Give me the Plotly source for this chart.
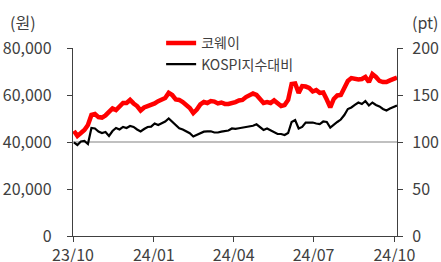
import plotly.graph_objects as go

# Dates (every 4 days)
dates = [
    "2023-10-02","2023-10-06","2023-10-10","2023-10-14","2023-10-18","2023-10-22","2023-10-26","2023-10-30",
    "2023-11-03","2023-11-07","2023-11-11","2023-11-15","2023-11-19","2023-11-23","2023-11-27",
    "2023-12-01","2023-12-05","2023-12-09","2023-12-13","2023-12-17","2023-12-21","2023-12-25","2023-12-29",
    "2024-01-02","2024-01-06","2024-01-10","2024-01-14","2024-01-18","2024-01-22","2024-01-26","2024-01-30",
    "2024-02-03","2024-02-07","2024-02-11","2024-02-15","2024-02-19","2024-02-23","2024-02-27",
    "2024-03-02","2024-03-06","2024-03-10","2024-03-14","2024-03-18","2024-03-22","2024-03-26","2024-03-30",
    "2024-04-03","2024-04-07","2024-04-11","2024-04-15","2024-04-19","2024-04-23","2024-04-27",
    "2024-05-01","2024-05-05","2024-05-09","2024-05-13","2024-05-17","2024-05-21","2024-05-25","2024-05-29",
    "2024-06-02","2024-06-06","2024-06-10","2024-06-14","2024-06-18","2024-06-22","2024-06-26","2024-06-30",
    "2024-07-04","2024-07-08","2024-07-12","2024-07-16","2024-07-20","2024-07-24","2024-07-28",
    "2024-08-01","2024-08-05","2024-08-09","2024-08-13","2024-08-17","2024-08-21","2024-08-25","2024-08-29",
    "2024-09-02","2024-09-06","2024-09-10","2024-09-14","2024-09-18","2024-09-22","2024-09-26","2024-09-30",
    "2024-10-04",
]

# 코웨이 share price (원)
coway = [
    44700, 42600, 43800, 45100, 47200, 51500, 51900, 50600,
    50400, 51300, 52800, 54300, 53600, 55300, 56600,
    56600, 57900, 56400, 55300, 53400, 54700, 55300, 55700,
    56400, 57400, 57900, 58700, 60900, 60000, 58100, 57900,
    57000, 56000, 54500, 52300, 53800, 56000, 57000,
    56600, 57400, 57200, 56400, 56800, 56200, 56200, 56500,
    57000, 57700, 57900, 59100, 60000, 60600, 60000,
    58500, 56600, 57000, 56600, 57700, 56600, 55300, 55700,
    57900, 64700, 64900, 60900, 63800, 63600, 63000, 61500,
    62100, 60900, 61100, 58100, 54700, 58300, 59800,
    60000, 63000, 66000, 67200, 66800, 66600, 66800, 67700,
    65500, 68900, 67700, 66000, 65500, 65500, 66200, 66800,
    67400,
]

# KOSPI 대비 상대지수 (pt)
kospi_rel = [
    99.5, 96.8, 100.5, 101.1, 97.9, 114.9, 114.4, 111.2,
    109.6, 110.6, 106.4, 111.7, 114.9, 113.3, 116.0,
    114.9, 117.0, 116.0, 113.3, 111.2, 113.8, 116.0, 116.3,
    119.7, 118.1, 119.9, 121.8, 125.0, 121.3, 118.1, 114.6,
    113.3, 111.7, 109.3, 105.9, 107.4, 109.6, 111.0,
    111.2, 111.4, 110.1, 110.1, 111.0, 111.4, 112.2, 114.4,
    114.0, 114.6, 115.2, 116.3, 116.3, 117.3, 118.8,
    116.0, 112.8, 114.4, 112.2, 110.6, 108.5, 108.5, 107.4,
    109.6, 121.3, 123.4, 114.4, 116.0, 120.7, 120.7, 120.7,
    119.7, 119.1, 121.8, 121.3, 115.4, 118.6, 121.3,
    123.9, 128.7, 135.1, 136.7, 139.4, 142.0, 140.4, 143.6,
    138.8, 142.0, 139.4, 137.8, 135.1, 133.5, 135.6, 137.2,
    138.8,
]

series_names = ["코웨이", "KOSPI지수대비"]
base_level = 100
x_range = ["2023-10-01", "2024-10-04"]
left_range = [0, 80000]
right_range = [0, 200]

FONT = "Noto Sans CJK KR"
TXT = "#404040"
AX = "#404040"

fig = go.Figure()
fig.add_trace(go.Scatter(x=dates, y=coway, name=series_names[0], mode="lines",
                         legendgroup="a",
                         line=dict(color="#FF0000", width=4.5), yaxis="y"))
fig.add_trace(go.Scatter(x=dates, y=kospi_rel, name=series_names[1], mode="lines",
                         legendgroup="b",
                         line=dict(color="#000000", width=2.2), yaxis="y2"))

fig.add_shape(type="line", xref="paper", x0=0, x1=1, yref="y2", y0=base_level, y1=base_level,
              line=dict(color="#C0C0C0", width=2), layer="below")

fig.update_layout(
    width=441, height=262,
    margin=dict(l=73, r=44, t=48, b=26, autoexpand=False),
    paper_bgcolor="white", plot_bgcolor="white",
    font=dict(family=FONT, size=16, color=TXT),
    showlegend=True,
    legend=dict(x=0.272, y=1.11, xanchor="left", yanchor="top",
                font=dict(family=FONT, size=14, color=TXT),
                bgcolor="rgba(0,0,0,0)", tracegroupgap=0),
    xaxis=dict(type="date", range=x_range, tick0="2023-10-01", dtick="M3",
               tickformat="%y/%m", showline=True, linecolor=AX, linewidth=1.3,
               ticks="outside", ticklen=5, tickcolor=AX, showgrid=False, zeroline=False,
               automargin=False, tickfont=dict(size=16, color=TXT)),
    yaxis=dict(range=left_range, dtick=20000, tickformat=",", showline=True,
               linecolor=AX, linewidth=1.3, ticks="outside", ticklen=5, tickcolor=AX,
               showgrid=False, zeroline=False, ticklabelstandoff=12, automargin=False,
               tickfont=dict(size=16, color=TXT)),
    yaxis2=dict(range=right_range, dtick=50, overlaying="y", side="right", anchor="x",
                showline=True, linecolor=AX, linewidth=1.3, ticks="outside", ticklen=5,
                tickcolor=AX, showgrid=False, zeroline=False, ticklabelstandoff=6,
                automargin=False, tickfont=dict(size=16, color=TXT)),
    annotations=[
        dict(text="(원)", xref="paper", yref="paper", x=-0.154, y=1.138,
             xanchor="center", yanchor="middle", showarrow=False,
             font=dict(family=FONT, size=16, color=TXT)),
        dict(text="(pt)", xref="paper", yref="paper", x=1.086, y=1.138,
             xanchor="center", yanchor="middle", showarrow=False,
             font=dict(family=FONT, size=16, color=TXT)),
    ],
)

fig.write_html("out.html", config={"displayModeBar": False},
               post_script="document.body.style.margin='0px';")
